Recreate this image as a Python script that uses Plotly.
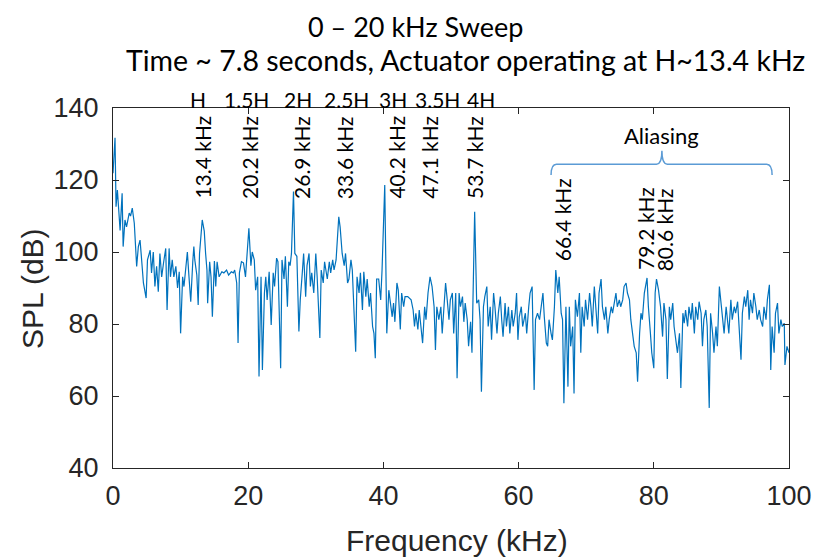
import plotly.graph_objects as go

# ---- data (frequency in kHz, SPL in dB) ----
freq_0_19 = [
    0.0, 0.3, 0.45, 0.65, 1.05, 1.35, 1.5, 1.77, 2.0, 2.4,
    2.6, 2.85, 3.15, 3.5, 3.75, 4.0, 4.2, 4.5, 4.9, 5.1,
    5.5, 5.7, 5.96, 6.2, 6.45, 6.7, 6.94, 7.2, 7.5, 7.8,
    8.0, 8.3, 8.5, 8.76, 9.0, 9.3, 9.55, 9.8, 10.0, 10.3,
    10.5, 10.8, 11.0, 11.2, 11.5, 11.8, 11.96, 12.1, 12.4, 12.6,
    12.8, 13.2, 13.5, 13.7, 13.9, 14.0, 14.3, 14.5, 14.7, 15.0,
    15.2, 15.4, 15.7, 16.1, 16.4, 16.8, 17.1, 17.5, 17.8, 18.0,
    18.3, 18.5, 18.7, 19.0,
]
spl_0_19 = [
    121.9, 131.7, 112.6, 117.2, 106.0, 116.3, 101.5, 108.9, 107.0, 110.8,
    110.0, 112.2, 108.0, 96.0, 101.5, 103.3, 98.7, 91.4, 87.2, 97.8,
    100.5, 94.2, 100.0, 90.4, 96.0, 89.0, 99.6, 93.1, 97.3, 101.0,
    83.9, 101.0, 93.1, 97.8, 93.1, 96.0, 90.0, 94.5, 77.4, 93.1,
    90.4, 97.8, 100.0, 94.2, 86.2, 97.3, 101.5, 97.8, 93.6, 85.3,
    99.6, 108.9, 105.8, 99.6, 95.0, 85.8, 97.3, 93.1, 82.0, 97.5,
    90.4, 97.3, 93.1, 94.5, 94.2, 95.0, 93.6, 94.5, 94.2, 95.0,
    91.4, 74.7, 94.2, 97.3,
]

freq_19_40 = [
    19.3, 19.6, 20.1, 20.4, 20.6, 20.9, 21.1, 21.4, 21.6, 21.9,
    22.1, 22.4, 22.6, 22.8, 23.1, 23.4, 23.7, 23.9, 24.2, 24.4,
    24.8, 25.0, 25.3, 25.5, 25.8, 26.0, 26.2, 26.4, 26.7, 26.9,
    27.2, 27.5, 27.7, 28.0, 28.2, 28.5, 28.7, 29.0, 29.2, 29.4,
    29.7, 30.0, 30.2, 30.6, 30.8, 31.1, 31.3, 31.7, 32.0, 32.2,
    32.5, 32.7, 33.0, 33.4, 33.6, 33.9, 34.2, 34.4, 34.7, 34.9,
    35.2, 35.4, 35.6, 35.9, 36.1, 36.4, 36.6, 36.9, 37.1, 37.4,
    37.6, 37.9, 38.1, 38.4, 38.6, 38.8, 39.0, 39.3, 39.6, 39.8,
    40.2,
]
spl_19_40 = [
    97.0, 93.1, 106.6, 96.2, 100.0, 97.8, 89.4, 93.1, 65.4, 93.1,
    67.2, 88.6, 93.1, 86.7, 94.5, 79.7, 94.2, 90.4, 98.3, 97.3,
    67.7, 97.8, 92.5, 98.8, 84.8, 97.3, 96.2, 99.6, 116.8, 99.6,
    98.8, 77.9, 86.7, 94.2, 99.6, 87.6, 96.2, 99.6, 90.4, 94.2,
    88.6, 99.6, 93.1, 76.1, 95.0, 91.4, 97.3, 92.5, 97.3, 94.2,
    97.8, 95.0, 97.8, 109.8, 106.9, 99.6, 96.2, 99.6, 91.4, 92.5,
    97.8, 95.0, 86.7, 72.3, 93.1, 88.6, 94.2, 83.9, 94.5, 87.6,
    92.5, 84.8, 88.6, 79.3, 77.4, 70.5, 92.5, 92.5, 86.7, 95.0,
    118.6,
]

freq_40_60 = [
    40.5, 40.8, 40.9, 41.3, 41.5, 41.7, 42.0, 42.2, 42.5, 42.7,
    43.0, 43.2, 43.6, 44.1, 44.4, 44.6, 44.8, 45.1, 45.3, 45.6,
    45.8, 46.1, 46.3, 46.6, 46.9, 47.2, 47.5, 47.7, 47.9, 48.2,
    48.5, 48.7, 48.9, 49.2, 49.4, 49.7, 49.9, 50.2, 50.4, 50.7,
    50.9, 51.2, 51.4, 51.7, 51.9, 52.1, 52.4, 52.6, 52.9, 53.1,
    53.5, 53.8, 54.1, 54.3, 54.5, 54.8, 55.0, 55.3, 55.5, 55.8,
    56.0, 56.3, 56.5, 56.8, 57.0, 57.3, 57.5, 57.7, 58.0, 58.2,
    58.5, 58.7, 59.0, 59.2, 59.5, 59.7, 59.9,
]
spl_40_60 = [
    77.4, 89.4, 87.6, 82.0, 85.8, 80.6, 91.4, 89.4, 78.5, 88.6,
    84.8, 87.6, 87.6, 86.7, 83.9, 79.3, 83.0, 78.5, 83.9, 79.3,
    74.7, 84.8, 81.2, 88.6, 93.1, 90.4, 84.8, 72.8, 84.8, 81.2,
    84.8, 77.4, 82.0, 91.4, 87.6, 81.2, 86.7, 88.6, 77.4, 88.6,
    64.9, 88.6, 84.8, 87.6, 80.6, 85.8, 81.2, 73.8, 80.6, 72.0,
    111.2, 85.8, 86.7, 81.2, 61.2, 84.8, 87.6, 90.4, 79.3, 84.8,
    75.6, 88.6, 84.8, 77.4, 83.0, 87.6, 81.2, 76.5, 85.8, 79.3,
    84.8, 77.4, 83.9, 79.3, 83.0, 88.6, 75.6,
]

freq_60_81 = [
    60.1, 60.4, 60.6, 61.0, 61.2, 61.5, 61.7, 62.0, 62.3, 62.5,
    62.8, 63.1, 63.3, 63.6, 63.8, 64.1, 64.3, 64.5, 64.8, 65.0,
    65.3, 65.5, 65.8, 66.0, 66.3, 66.5, 66.7, 67.0, 67.3, 67.5,
    67.7, 68.0, 68.2, 68.4, 68.7, 69.0, 69.2, 69.4, 69.7, 69.9,
    70.2, 70.5, 70.7, 70.9, 71.2, 71.4, 71.7, 71.9, 72.2, 72.4,
    72.7, 72.9, 73.2, 73.4, 73.7, 73.9, 74.2, 74.4, 74.6, 74.9,
    75.1, 75.4, 75.6, 75.9, 76.1, 76.4, 76.6, 76.9, 77.1, 77.4,
    77.6, 77.9, 78.1, 78.3, 78.6, 79.0, 79.2, 79.5, 79.7, 80.0,
    80.2, 80.4, 80.7,
]
spl_60_81 = [
    82.0, 84.8, 79.3, 83.0, 77.4, 84.8, 88.6, 90.4, 61.7, 81.2,
    83.0, 81.2, 84.8, 88.6, 82.0, 74.7, 73.8, 81.2, 77.4, 75.6,
    84.8, 95.0, 88.6, 93.1, 83.0, 81.2, 58.0, 84.8, 62.6, 84.8,
    73.8, 79.3, 60.7, 86.7, 82.0, 88.6, 72.0, 84.8, 79.3, 86.7,
    81.2, 88.6, 84.8, 79.3, 90.4, 84.8, 77.4, 88.6, 92.5, 84.8,
    81.2, 84.8, 77.4, 81.2, 84.8, 83.0, 86.7, 88.6, 84.8, 86.7,
    84.8, 86.7, 90.4, 91.4, 88.6, 86.7, 81.2, 77.4, 73.8, 72.0,
    64.0, 77.4, 83.0, 81.2, 88.6, 92.8, 84.8, 77.4, 72.0, 67.7,
    88.6, 92.5, 89.4,
]

freq_81_100 = [
    81.0, 81.3, 81.5, 81.8, 82.0, 82.3, 82.5, 82.8, 83.0, 83.3,
    83.5, 83.8, 84.0, 84.3, 84.5, 84.7, 85.0, 85.2, 85.5, 85.7,
    86.0, 86.2, 86.5, 86.7, 87.0, 87.2, 87.4, 87.7, 87.9, 88.2,
    88.4, 88.7, 88.9, 89.2, 89.4, 89.7, 89.9, 90.2, 90.4, 90.7,
    90.9, 91.1, 91.4, 91.6, 91.9, 92.1, 92.4, 92.6, 92.9, 93.1,
    93.4, 93.6, 93.9, 94.1, 94.3, 94.6, 94.8, 95.1, 95.3, 95.6,
    95.8, 96.1, 96.3, 96.6, 96.8, 97.1, 97.3, 97.5, 97.8, 98.0,
    98.3, 98.5, 98.8, 99.0, 99.3, 99.4, 99.7, 100.0,
]
spl_81_100 = [
    84.8, 76.5, 85.8, 81.2, 64.7, 84.8, 81.2, 85.8, 79.3, 75.6,
    72.0, 77.4, 62.2, 83.0, 80.2, 83.9, 79.3, 84.8, 81.2, 85.8,
    77.4, 84.8, 81.2, 86.2, 83.0, 73.8, 81.2, 83.9, 79.3, 56.7,
    83.0, 77.4, 72.0, 79.3, 73.8, 90.4, 86.7, 83.0, 77.4, 84.8,
    81.2, 77.4, 86.7, 81.2, 84.8, 83.0, 86.2, 79.3, 70.1, 83.0,
    87.6, 84.8, 89.4, 81.2, 86.7, 83.0, 88.6, 84.8, 81.2, 83.9,
    81.2, 79.3, 84.8, 81.2, 86.7, 90.9, 67.2, 79.3, 72.0, 83.0,
    85.8, 77.4, 81.2, 79.3, 80.2, 68.6, 73.8, 72.0,
]

# harmonic labels
harmonic_names = ["H", "1.5H", "2H", "2.5H", "3H", "3.5H", "4H"]
harmonic_label_x = [12.6, 19.8, 27.3, 34.6, 41.4, 48.0, 54.4]
peak_labels = ["13.4 kHz", "20.2 kHz", "26.9 kHz", "33.6 kHz", "40.2 kHz",
               "47.1 kHz", "53.7 kHz", "66.4 kHz", "79.2 kHz", "80.6 kHz"]
peak_label_x = [13.2, 20.2, 27.9, 34.3, 41.9, 46.8, 53.5, 66.5, 78.8, 81.5]
peak_label_y = [114.2, 114.2, 114.2, 114.2, 114.2, 114.2, 114.2, 96.9, 94.5, 94.2]

alias_start, alias_mid, alias_end = 64.8, 81.2, 97.5
alias_level, alias_tip, alias_foot = 124.4, 128.1, 121.4

freq = freq_0_19 + freq_19_40 + freq_40_60 + freq_60_81 + freq_81_100
spl = spl_0_19 + spl_19_40 + spl_40_60 + spl_60_81 + spl_81_100
n = min(len(freq), len(spl))
freq, spl = freq[:n], spl[:n]

# The page body has an 8px default margin, so the figure is drawn 8px in from
# the window's top-left corner.  Target plot-area edges in window pixels:
OFF = 8
L, R, T, B = 113, 789, 108, 468
FIG_W, FIG_H = 826 - OFF, 557 - OFF
W, H = R - L, B - T

AX = "#262626"
SANS = "Liberation Sans, Arial, sans-serif"
TICKFONT = dict(family=SANS, size=27, color=AX)
ANNFONT = "Lato, Carlito, Calibri, sans-serif"

fig = go.Figure()
fig.add_trace(go.Scatter(x=freq, y=spl, mode="lines",
                         line=dict(color="#0072BD", width=1.2),
                         hoverinfo="skip", showlegend=False))

axis_common = dict(showline=True, linecolor=AX, linewidth=1, mirror="ticks",
                   ticks="inside", ticklen=6, tickcolor=AX, showgrid=False,
                   zeroline=False, tickfont=TICKFONT, automargin=False)

fig.update_xaxes(range=[0, 100], tickvals=[0, 20, 40, 60, 80, 100],
                 ticklabelstandoff=4, **axis_common)
fig.update_yaxes(range=[40, 140], tickvals=[40, 60, 80, 100, 120, 140],
                 ticklabelstandoff=8, **axis_common)

def px_x(p):
    return (p - L) / W

def px_y(p):
    return (B - p) / H

ann = []
ann.append(dict(text="Frequency (kHz)", xref="paper", yref="paper",
                x=px_x(457), y=px_y(540), xanchor="center", yanchor="middle",
                showarrow=False, font=dict(family=SANS, size=30, color=AX)))
ann.append(dict(text="SPL (dB)", xref="paper", yref="paper", textangle=-90,
                x=px_x(32), y=px_y(289), xanchor="center", yanchor="middle",
                showarrow=False, font=dict(family=SANS, size=30, color=AX)))
ann.append(dict(text="0 – 20 kHz Sweep", xref="paper", yref="paper",
                x=px_x(415), y=px_y(9), xanchor="center", yanchor="top",
                showarrow=False, borderpad=0,
                font=dict(family=ANNFONT, size=27, color="#000000")))
ann.append(dict(text="Time ~ 7.8 seconds, Actuator operating at H~13.4 kHz", xref="paper", yref="paper",
                x=px_x(466), y=px_y(60), xanchor="center", yanchor="middle",
                showarrow=False, borderpad=0,
                font=dict(family=ANNFONT, size=28.5, color="#000000")))
for name, hx in zip(harmonic_names, harmonic_label_x):
    ann.append(dict(text=name, x=hx, xref="x", y=px_y(99), yref="paper",
                    xanchor="center", yanchor="middle", showarrow=False,
                    font=dict(family=ANNFONT, size=21, color="#000000")))
for lab, lx, ly in zip(peak_labels, peak_label_x, peak_label_y):
    ann.append(dict(text=lab, x=lx, y=ly, xref="x", yref="y", textangle=-90,
                    xanchor="center", yanchor="bottom", showarrow=False,
                    font=dict(family=ANNFONT, size=21, color="#000000")))
ann.append(dict(text="Aliasing", x=alias_mid, y=132.5, xref="x", yref="y",
                xanchor="center", yanchor="middle", showarrow=False,
                font=dict(family=ANNFONT, size=22, color="#000000")))

r = 0.8
path = (f"M {alias_start},{alias_foot} Q {alias_start},{alias_level} {alias_start + r},{alias_level} "
        f"L {alias_mid - r},{alias_level} Q {alias_mid},{alias_level} {alias_mid},{alias_tip} "
        f"Q {alias_mid},{alias_level} {alias_mid + r},{alias_level} "
        f"L {alias_end - r},{alias_level} Q {alias_end},{alias_level} {alias_end},{alias_foot}")
fig.add_shape(type="path", path=path, xref="x", yref="y",
              line=dict(color="#5B9BD5", width=1.5))

fig.update_layout(width=FIG_W, height=FIG_H,
                  margin=dict(l=L - OFF, r=(OFF + FIG_W) - R, t=T - OFF, b=(OFF + FIG_H) - B,
                              autoexpand=False),
                  paper_bgcolor="white", plot_bgcolor="white", annotations=ann,
                  showlegend=False)

fig.write_html("out.html")
